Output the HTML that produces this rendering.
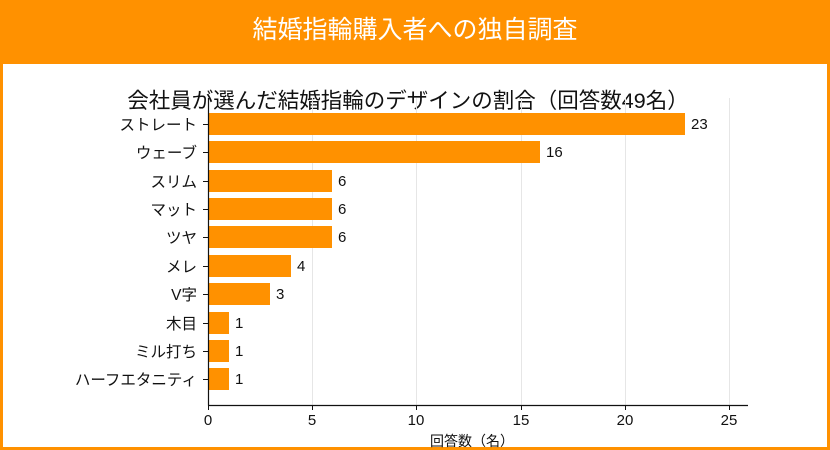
<!DOCTYPE html>
<html><head><meta charset="utf-8"><style>
html,body{margin:0;padding:0;width:830px;height:450px;overflow:hidden;background:#fff;font-family:"Liberation Sans","Noto Sans CJK JP",sans-serif}
.hdr{position:absolute;left:0;top:0;width:830px;height:64px;background:#ff9100;color:#fff;font-size:25px;text-align:center;line-height:60px}
.frame{position:absolute;left:0;top:62px;width:824px;height:385px;border:3px solid #ff9100;border-top:none}
</style></head><body>
<div class="hdr">結婚指輪購入者への独自調査</div>
<div class="frame"></div>
<svg width="830" height="450" style="position:absolute;left:0;top:0" font-family="Liberation Sans, Noto Sans CJK JP, sans-serif">
<text x="408" y="108" font-size="21.5" text-anchor="middle" fill="#111">会社員が選んだ結婚指輪のデザインの割合（回答数49名）</text>
<g stroke="#e6e6e6" stroke-width="1">
<line x1="312.5" y1="98" x2="312.5" y2="405"/><line x1="416.5" y1="98" x2="416.5" y2="405"/><line x1="521.5" y1="98" x2="521.5" y2="405"/><line x1="625.5" y1="98" x2="625.5" y2="405"/><line x1="729.5" y1="98" x2="729.5" y2="405"/>
</g>
<g fill="#ff9100">
<rect x="208" y="113" width="477" height="22"/>
<rect x="208" y="141" width="332" height="22"/>
<rect x="208" y="170" width="124" height="22"/>
<rect x="208" y="198" width="124" height="22"/>
<rect x="208" y="226" width="124" height="22"/>
<rect x="208" y="255" width="83" height="22"/>
<rect x="208" y="283" width="62" height="22"/>
<rect x="208" y="312" width="21" height="22"/>
<rect x="208" y="340" width="21" height="22"/>
<rect x="208" y="368" width="21" height="22"/>
</g>
<g font-size="15" fill="#111">
<text x="691" y="129">23</text><text x="546" y="157">16</text><text x="338" y="186">6</text><text x="338" y="214">6</text><text x="338" y="242">6</text><text x="297" y="271">4</text><text x="276" y="299">3</text><text x="235" y="328">1</text><text x="235" y="356">1</text><text x="235" y="384">1</text>
</g>
<g font-size="15.5" fill="#111" text-anchor="end">
<text x="197" y="130">ストレート</text><text x="197" y="158">ウェーブ</text><text x="197" y="187">スリム</text><text x="197" y="215">マット</text><text x="197" y="243">ツヤ</text><text x="197" y="272">メレ</text><text x="197" y="300">V字</text><text x="197" y="329">木目</text><text x="197" y="357">ミル打ち</text><text x="197" y="385">ハーフエタニティ</text>
</g>
<g stroke="#111" stroke-width="1">
<line x1="203" y1="124.5" x2="208" y2="124.5"/><line x1="203" y1="152.5" x2="208" y2="152.5"/><line x1="203" y1="181.5" x2="208" y2="181.5"/><line x1="203" y1="209.5" x2="208" y2="209.5"/><line x1="203" y1="237.5" x2="208" y2="237.5"/><line x1="203" y1="266.5" x2="208" y2="266.5"/><line x1="203" y1="294.5" x2="208" y2="294.5"/><line x1="203" y1="323.5" x2="208" y2="323.5"/><line x1="203" y1="351.5" x2="208" y2="351.5"/><line x1="203" y1="379.5" x2="208" y2="379.5"/>
<line x1="208.5" y1="405" x2="208.5" y2="410"/><line x1="312.5" y1="405" x2="312.5" y2="410"/><line x1="416.5" y1="405" x2="416.5" y2="410"/><line x1="521.5" y1="405" x2="521.5" y2="410"/><line x1="625.5" y1="405" x2="625.5" y2="410"/><line x1="729.5" y1="405" x2="729.5" y2="410"/>
</g>
<line x1="208.5" y1="98" x2="208.5" y2="405.5" stroke="#111" stroke-width="1.2"/>
<line x1="208" y1="405.5" x2="748" y2="405.5" stroke="#111" stroke-width="1.2"/>
<g font-size="15" fill="#111" text-anchor="middle">
<text x="208" y="425">0</text><text x="312" y="425">5</text><text x="416" y="425">10</text><text x="521" y="425">15</text><text x="625" y="425">20</text><text x="729" y="425">25</text>
</g>
<text x="472" y="446" font-size="14" text-anchor="middle" fill="#111">回答数（名）</text>
</svg>
</body></html>
